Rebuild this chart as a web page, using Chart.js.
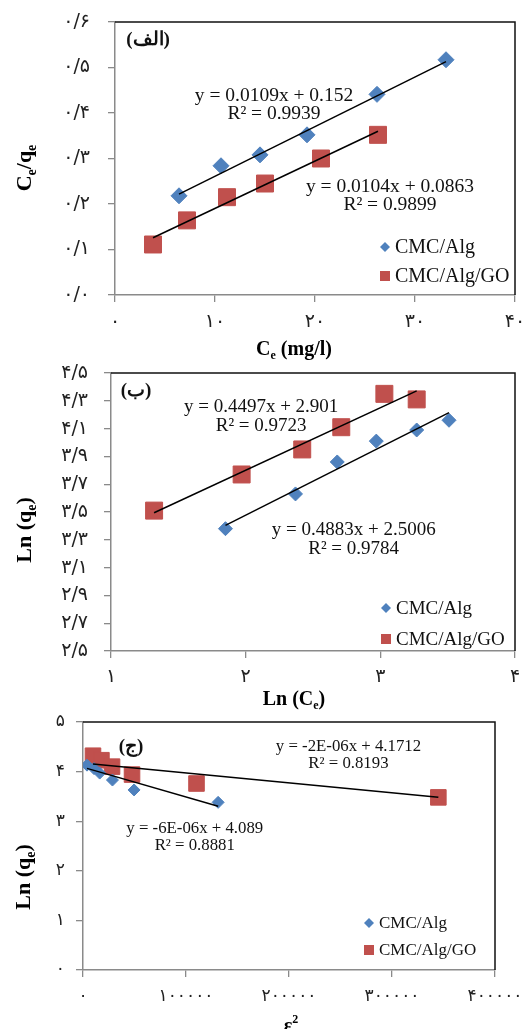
<!DOCTYPE html>
<html>
<head>
<meta charset="utf-8">
<script src="https://cdn.jsdelivr.net/npm/chart.js@4.4.1/dist/chart.umd.min.js"></script>
<style>
  html, body { margin: 0; padding: 0; background: #fff; }
  .panel { position: absolute; left: 0; width: 528px; }
  #p1 { top: 0; height: 360px; }
  #p2 { top: 360px; height: 355px; }
  #p3 { top: 705px; height: 324px; }
</style>
</head>
<body>
<div class="panel" id="p1"><canvas id="c1"></canvas></div>
<div class="panel" id="p3"><canvas id="c3"></canvas></div>
<div class="panel" id="p2"><canvas id="c2"></canvas></div>
<script>
// ---- data ----
// (الف) Ce vs Ce/qe
const ceAlg   = [6.4, 10.6, 14.5, 19.2, 26.2, 33.1];
const ceqeAlg = [0.218, 0.284, 0.308, 0.352, 0.441, 0.517];
const ceGO    = [3.8, 7.2, 11.2, 15.0, 20.6, 26.3];
const ceqeGO  = [0.111, 0.164, 0.215, 0.245, 0.300, 0.352];
const fit1Alg = [0.0109, 0.152];   // slope, intercept
const fit1GO  = [0.0104, 0.0863];

// (ب) Ln(Ce) vs Ln(qe)
const lnCeAlg = [1.85, 2.37, 2.68, 2.97, 3.27, 3.51];
const lnqAlg  = [3.38, 3.63, 3.86, 4.01, 4.09, 4.16];
const lnCeGO  = [1.32, 1.97, 2.42, 2.71, 3.03, 3.27];
const lnqGO   = [3.51, 3.77, 3.95, 4.11, 4.35, 4.31];
const fit2Alg = [0.4883, 2.5006];
const fit2GO  = [0.4497, 2.901];

// (ج) eps^2 vs Ln(qe)
const eps2Alg  = [3900, 10700, 16200, 28600, 49600, 131200];
const lnqAlg3  = [4.13, 4.06, 3.97, 3.83, 3.63, 3.38];
const eps2GO   = [9700, 17900, 28200, 47600, 110200, 345000];
const lnqGO3   = [4.32, 4.23, 4.10, 3.94, 3.76, 3.48];
const fit3Alg  = [-6e-6, 4.089];
const fit3GO   = [-2e-6, 4.1712];

// tick values
const ticksX1 = [0, 10, 20, 30, 40];
const ticksY1 = [0, 0.1, 0.2, 0.3, 0.4, 0.5, 0.6];
const ticksX2 = [1, 2, 3, 4];
const ticksY2 = [2.5, 2.7, 2.9, 3.1, 3.3, 3.5, 3.7, 3.9, 4.1, 4.3, 4.5];
const ticksX3 = [0, 100000, 200000, 300000, 400000];
const ticksY3 = [0, 1, 2, 3, 4, 5];

const names = ['CMC/Alg', 'CMC/Alg/GO'];
const BLUE = '#4F81BD';
const RED = '#C0504D';
const AXIS = '#8a8a8a';
const SERIF = '"Liberation Serif", "Times New Roman", "DejaVu Serif", serif';
const FA = '"DejaVu Sans", sans-serif';

const faDigits = '۰۱۲۳۴۵۶۷۸۹';
function toFa(v, dec) {
  return v.toFixed(dec).replace(/[0-9]/g, d => faDigits[d]).replace('.', '/');
}

function pts(xs, ys) { return xs.map((x, i) => ({ x, y: ys[i] })); }
function fitLine(xs, f) {
  const a = Math.min(...xs), b = Math.max(...xs);
  return [{ x: a, y: f[0] * a + f[1] }, { x: b, y: f[0] * b + f[1] }];
}

// bold serif text with sub/superscripts, centred on (cx, cy)
function drawRich(ctx, parts, cx, cy, rot, size) {
  const big = `bold ${size}px ${SERIF}`;
  const small = `bold ${Math.round(size * 0.62)}px ${SERIF}`;
  ctx.save();
  ctx.translate(cx, cy);
  ctx.rotate(rot);
  ctx.fillStyle = '#000';
  ctx.textAlign = 'left';
  ctx.textBaseline = 'alphabetic';
  let w = 0;
  parts.forEach(p => { ctx.font = p[1] ? small : big; w += ctx.measureText(p[0]).width; });
  let x = -w / 2;
  parts.forEach(p => {
    ctx.font = p[1] ? small : big;
    const dy = p[1] === 1 ? size * 0.2 : p[1] === 2 ? -size * 0.42 : 0;
    ctx.fillText(p[0], x, size * 0.33 + dy);
    x += ctx.measureText(p[0]).width;
  });
  ctx.restore();
}

const overlay = {
  id: 'overlay',
  afterDraw(chart, args, o) {
    const ctx = chart.ctx, a = chart.chartArea;
    const xs = chart.scales.x, ys = chart.scales.y;
    ctx.save();
    // dark top/right frame
    ctx.strokeStyle = '#111';
    ctx.lineWidth = 1.5;
    ctx.beginPath();
    ctx.moveTo(a.left, a.top);
    ctx.lineTo(a.right, a.top);
    ctx.lineTo(a.right, a.bottom);
    ctx.stroke();

    // trendline equations
    ctx.fillStyle = '#111';
    ctx.textAlign = 'center';
    ctx.textBaseline = 'middle';
    ctx.font = `${o.eqSize}px ${SERIF}`;
    o.notes.forEach(n => {
      const x = xs.getPixelForValue(n.x), y = ys.getPixelForValue(n.y);
      n.lines.forEach((t, i) => ctx.fillText(t, x, y + i * o.gap));
    });

    // panel tag
    ctx.font = `bold 19px ${SERIF}`;
    ctx.fillText(o.tag.text, o.tag.x, o.tag.y);

    // legend
    const L = o.legend;
    ctx.textAlign = 'left';
    ctx.font = `${L.size}px ${SERIF}`;
    ctx.fillStyle = BLUE;
    ctx.beginPath();
    ctx.moveTo(L.x - 5, L.y1); ctx.lineTo(L.x, L.y1 - 5);
    ctx.lineTo(L.x + 5, L.y1); ctx.lineTo(L.x, L.y1 + 5);
    ctx.closePath(); ctx.fill();
    ctx.fillStyle = RED;
    ctx.fillRect(L.x - 5, L.y2 - 5, 10, 10);
    ctx.fillStyle = '#111';
    ctx.fillText(names[0], L.x + 10, L.y1 + 1);
    ctx.fillText(names[1], L.x + 10, L.y2 + 1);
    ctx.restore();

    drawRich(ctx, o.xTitle.parts, o.xTitle.x, o.xTitle.y, 0, 20);
    drawRich(ctx, o.yTitle.parts, o.yTitle.x, o.yTitle.y, -Math.PI / 2, 22);
  }
};

function axis(tks, min, max, fit, pad, size, dec, horizontal) {
  return {
    type: 'linear', min, max,
    afterBuildTicks: s => { s.ticks = tks.map(v => ({ value: v })); },
    afterFit: s => {
      if (horizontal) { s.height = fit; s.paddingLeft = 0; s.paddingRight = 0; }
      else { s.width = fit; s.paddingTop = 0; s.paddingBottom = 0; }
    },
    grid: { drawOnChartArea: false, drawTicks: true, tickLength: 7, color: AXIS, lineWidth: 1.3 },
    border: { color: AXIS, width: 1.5 },
    ticks: {
      callback: v => toFa(v, dec),
      font: { family: FA, size },
      color: '#222', padding: pad,
      maxRotation: 0, autoSkip: false
    }
  };
}

function makeChart(id, c) {
  return new Chart(document.getElementById(id), {
    type: 'scatter',
    data: {
      datasets: [
        { data: c.lineA, showLine: true, borderColor: '#000', borderWidth: 1.5, pointRadius: 0, order: 0 },
        { data: c.lineB, showLine: true, borderColor: '#000', borderWidth: 1.5, pointRadius: 0, order: 0 },
        { label: names[0], data: c.alg, pointStyle: 'rectRot', pointRadius: c.rA,
          backgroundColor: BLUE, borderColor: BLUE, borderWidth: 1, order: 1 },
        { label: names[1], data: c.go, pointStyle: 'rect', pointRadius: c.rB,
          backgroundColor: RED, borderColor: RED, borderWidth: 1, order: 1 }
      ]
    },
    options: {
      responsive: true,
      maintainAspectRatio: false,
      animation: false,
      layout: { padding: c.padding },
      plugins: { legend: { display: false }, tooltip: { enabled: false }, overlay: c.overlay },
      scales: { x: c.x, y: c.y }
    },
    plugins: [overlay]
  });
}

makeChart('c1', {
  alg: pts(ceAlg, ceqeAlg), go: pts(ceGO, ceqeGO),
  lineA: fitLine(ceAlg, fit1Alg), lineB: fitLine(ceGO, fit1GO),
  rA: 8, rB: 12,
  padding: { left: 0, right: 12, top: 22, bottom: 0 },
  x: axis(ticksX1, 0, 40, 65, 9, 19, 0, true),
  y: axis(ticksY1, 0, 0.6, 115, 18, 19, 1, false),
  overlay: {
    eqSize: 19.5, gap: 18,
    notes: [
      { x: 15.9, y: 0.437, lines: ['y = 0.0109x + 0.152', 'R² = 0.9939'] },
      { x: 27.5, y: 0.237, lines: ['y = 0.0104x + 0.0863', 'R² = 0.9899'] }
    ],
    tag: { text: '(الف)', x: 148, y: 40 },
    legend: { x: 385, y1: 247, y2: 276, size: 20 },
    xTitle: { parts: [['C', 0], ['e', 1], [' (mg/l)', 0]], x: 294, y: 348 },
    yTitle: { parts: [['C', 0], ['e', 1], ['/q', 0], ['e', 1]], x: 24, y: 168 }
  }
});

makeChart('c2', {
  alg: pts(lnCeAlg, lnqAlg), go: pts(lnCeGO, lnqGO),
  lineA: fitLine(lnCeAlg, fit2Alg), lineB: fitLine(lnCeGO, fit2GO),
  rA: 7, rB: 12,
  padding: { left: 0, right: 11, top: 13, bottom: 0 },
  x: axis(ticksX2, 1, 4, 64, 8, 19, 0, true),
  y: axis(ticksY2, 2.5, 4.5, 111, 16, 19, 1, false),
  overlay: {
    eqSize: 19, gap: 19,
    notes: [
      { x: 2.115, y: 4.255, lines: ['y = 0.4497x + 2.901', 'R² = 0.9723'] },
      { x: 2.802, y: 3.368, lines: ['y = 0.4883x + 2.5006', 'R² = 0.9784'] }
    ],
    tag: { text: '(ب)', x: 136, y: 31 },
    legend: { x: 386, y1: 248, y2: 279, size: 19 },
    xTitle: { parts: [['Ln (C', 0], ['e', 1], [')', 0]], x: 294, y: 338 },
    yTitle: { parts: [['Ln (q', 0], ['e', 1], [')', 0]], x: 24, y: 170 }
  }
});

makeChart('c3', {
  alg: pts(eps2Alg, lnqAlg3), go: pts(eps2GO, lnqGO3),
  lineA: fitLine(eps2Alg, fit3Alg), lineB: fitLine(eps2GO, fit3GO),
  rA: 6, rB: 11,
  padding: { left: 0, right: 33, top: 17, bottom: 0 },
  x: axis(ticksX3, 0, 400000, 59, 9, 17, 0, true),
  y: axis(ticksY3, 0, 5, 83, 11, 17, 0, false),
  overlay: {
    eqSize: 16.8, gap: 17,
    notes: [
      { x: 257700, y: 4.50, lines: ['y = -2E-06x + 4.1712', 'R² = 0.8193'] },
      { x: 108500, y: 2.854, lines: ['y = -6E-06x + 4.089', 'R² = 0.8881'] }
    ],
    tag: { text: '(ج)', x: 131, y: 42 },
    legend: { x: 369, y1: 218, y2: 245, size: 17 },
    xTitle: { parts: [['ε', 0], ['2', 2]], x: 291, y: 320 },
    yTitle: { parts: [['Ln (q', 0], ['e', 1], [')', 0]], x: 23, y: 172 }
  }
});
</script>
</body>
</html>
